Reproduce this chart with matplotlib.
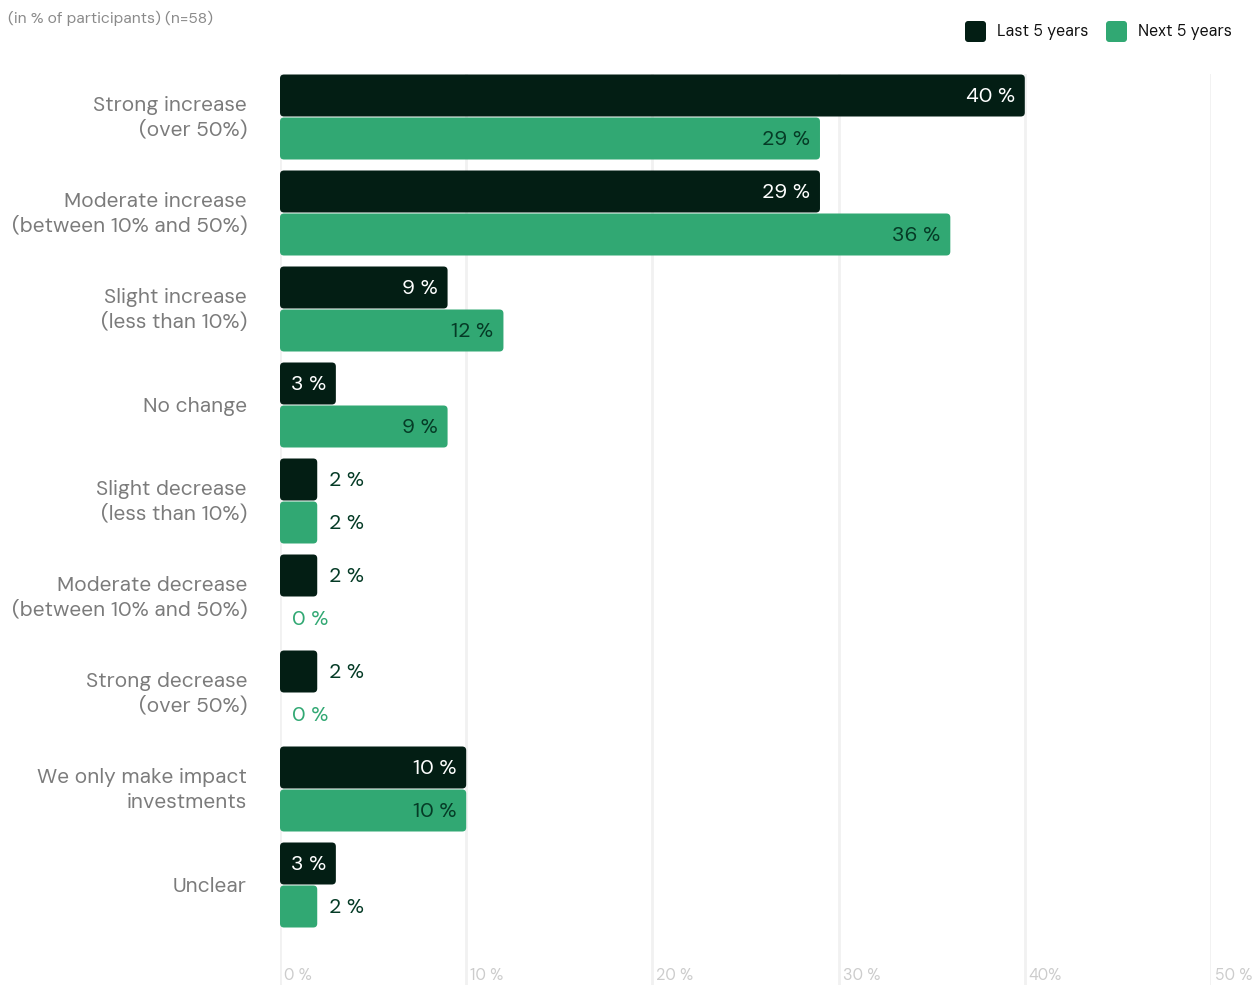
import matplotlib
matplotlib.use("Agg")
import matplotlib.pyplot as plt
from matplotlib.patches import FancyBboxPatch
import matplotlib.transforms as mtransforms

categories = [
    "Strong increase\n(over 50%)",
    "Moderate increase\n(between 10% and 50%)",
    "Slight increase\n(less than 10%)",
    "No change",
    "Slight decrease\n(less than 10%)",
    "Moderate decrease\n(between 10% and 50%)",
    "Strong decrease\n(over 50%)",
    "We only make impact\ninvestments",
    "Unclear",
]
last5 = [40, 29, 9, 3, 2, 2, 2, 10, 3]
next5 = [29, 36, 12, 9, 2, 0, 0, 10, 2]
series_names = ["Last 5 years", "Next 5 years"]
tick_vals = [0, 10, 20, 30, 40, 50]
tick_labels = ["0 %", "10 %", "20 %", "30 %", "40%", "50 %"]

DARK = "#031e14"
GREEN = "#31a873"
LABEL_DARK = "#053b26"
CAT_GREY = "#7b7b7b"
GRID = "#f1f1f1"
TICK_GREY = "#cccccc"

FONT = ["DM Sans", "Inter", "DejaVu Sans"]
plt.rcParams["font.family"] = FONT

W, H = 1260, 985
fig = plt.figure(figsize=(W / 100, H / 100), dpi=100)

# axes placement in pixels
x0, x1 = 280, 1211
ytop, ybot = 74, 985
ax = fig.add_axes([x0 / W, 1 - ybot / H, (x1 - x0) / W, (ybot - ytop) / H])
pitch = 96.0
first_center = 117.0
ax.set_xlim(0, 50)
ax.set_ylim((ybot - first_center) / pitch, (ytop - first_center) / pitch)
for s in ax.spines.values():
    s.set_visible(False)
ax.set_xticks([])
ax.set_yticks([])

# grid
for v in tick_vals:
    ax.axvline(v, color=GRID, lw=2, zorder=0)

px_x = (x1 - x0) / 50.0
bar_h = 42.0 / pitch
off = 21.5 / pitch
radius_px = 4.0
aspect = px_x / pitch

def rbar(y, val, color):
    if val <= 0:
        return
    p = FancyBboxPatch((0, y - bar_h / 2), val, bar_h,
                       boxstyle=f"round,pad=0,rounding_size={radius_px / px_x}",
                       mutation_aspect=aspect, fc=color, ec="none", zorder=2)
    ax.add_patch(p)

for i, (a, b) in enumerate(zip(last5, next5)):
    for val, yy, col, incol in [(a, i - off, DARK, "white"), (b, i + off, GREEN, LABEL_DARK)]:
        rbar(yy, val, col)
        txt = f"{val} %"
        if val >= 3:
            ax.annotate(txt, (val, yy), xytext=(-10, -1), textcoords="offset pixels",
                        ha="right", va="center", fontsize=15, color=incol, zorder=3)
        elif val > 0:
            ax.annotate(txt, (val, yy), xytext=(12, -1), textcoords="offset pixels",
                        ha="left", va="center", fontsize=15, color=LABEL_DARK, zorder=3)
        else:
            ax.annotate(txt, (val, yy), xytext=(12, -1), textcoords="offset pixels",
                        ha="left", va="center", fontsize=15, color=GREEN, zorder=3)
    ax.annotate(categories[i], (0, i), xytext=(-33, -1), textcoords="offset pixels",
                ha="right", va="center", fontsize=15, color=CAT_GREY,
                linespacing=1.35, annotation_clip=False)

# tick labels at bottom inside
trans = mtransforms.blended_transform_factory(ax.transData, fig.transFigure)
for v, lab in zip(tick_vals, tick_labels):
    ax.annotate(lab, (v, 1 - 976 / H), xycoords=trans, xytext=(4, 0), textcoords="offset pixels",
                ha="left", va="center", fontsize=11.5, color=TICK_GREY, annotation_clip=False)

# header
fig.text(8 / W, 1 - 18.5 / H, "(in % of participants) (n=58)", ha="left", va="center",
         fontsize=11.2, color="#8a8a8a")

# legend (manual)
def legend_item(xpx, name, color):
    p = FancyBboxPatch((xpx / W, 1 - 42 / H), 21 / W, 21 / H,
                       boxstyle="round,pad=0,rounding_size=0.0025",
                       mutation_aspect=W / H, transform=fig.transFigure,
                       fc=color, ec="none")
    fig.patches.append(p)
    fig.text((xpx + 32) / W, 1 - 32 / H, name, ha="left", va="center",
             fontsize=11.5, color="#111111")

legend_item(965, series_names[0], DARK)
legend_item(1106, series_names[1], GREEN)

fig.savefig("out.png", dpi=100)
